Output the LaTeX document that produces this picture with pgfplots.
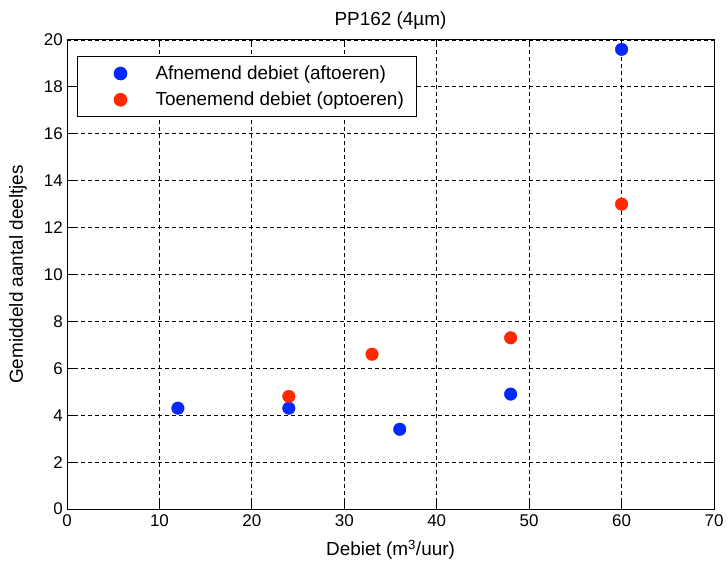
\documentclass[border=0pt]{standalone}
\usepackage{fontspec}
\setmainfont{Liberation Sans}
\usepackage{pgfplots}
\pgfplotsset{compat=1.18}
\definecolor{mblue}{RGB}{0,40,255}
\definecolor{mred}{RGB}{255,40,0}
\begin{document}
\begin{tikzpicture}
\begin{axis}[
  scale only axis,
  width=647bp, height=469bp,
  xmin=0, xmax=70, ymin=0, ymax=20,
  xtick={0,10,...,70}, ytick={0,2,...,20},
  tick align=inside, tick pos=both,
  major tick length=7bp,
  grid=major,
  major grid style={black, dash pattern=on 4bp off 3bp, line width=0.9bp},
  axis line style={black, line width=1bp},
  tick style={black, line width=1bp},
  /pgf/number format/assume math mode=true,
  tick label style={font=\fontsize{17}{20}\selectfont},
  yticklabel style={inner xsep=4bp},
  xticklabel style={inner ysep=5bp},
  label style={font=\fontsize{19}{22}\selectfont},
  title style={font=\fontsize{19}{22}\selectfont, at={(axis description cs:0.5,1)}, anchor=base, yshift=9bp},
  title={PP162 (4µm)},
  xlabel={Debiet (m\textsuperscript{3}/uur)},
  ylabel={Gemiddeld aantal deeltjes},
  xlabel style={at={(axis description cs:0.5,-0.0874)}, anchor=center},
  ylabel style={at={(axis description cs:-0.0757,0.5)}, anchor=center},
  legend style={at={(0.0155,0.966)}, anchor=north west, draw=black, line width=1bp,
    font=\fontsize{19}{22}\selectfont, inner xsep=10bp, inner ysep=6.5bp,
    row sep=5bp,
    nodes={inner xsep=3bp, inner ysep=3bp}},
  legend cell align=left,
  legend image code/.code={\path[draw=none,fill=none] (-33bp,0) -- (32bp,0); \fill[#1] (0,0) circle (6.3bp);},
]
\addplot[only marks, mark=*, mark size=6.3bp, mblue, draw=mblue, fill=mblue] coordinates {
(12,4.3) (24,4.3) (36,3.4) (48,4.9) (60,19.6)};
\addlegendentry{Afnemend debiet (aftoeren)}
\addplot[only marks, mark=*, mark size=6.3bp, mred, draw=mred, fill=mred] coordinates {
(24,4.8) (33,6.6) (48,7.3) (60,13.0)};
\addlegendentry{Toenemend debiet (optoeren)}
\end{axis}
\pgfresetboundingbox
\path ([xshift=-67bp,yshift=-56bp]current axis.south west) rectangle ([xshift=14bp,yshift=40bp]current axis.north east);
\end{tikzpicture}
\end{document}
